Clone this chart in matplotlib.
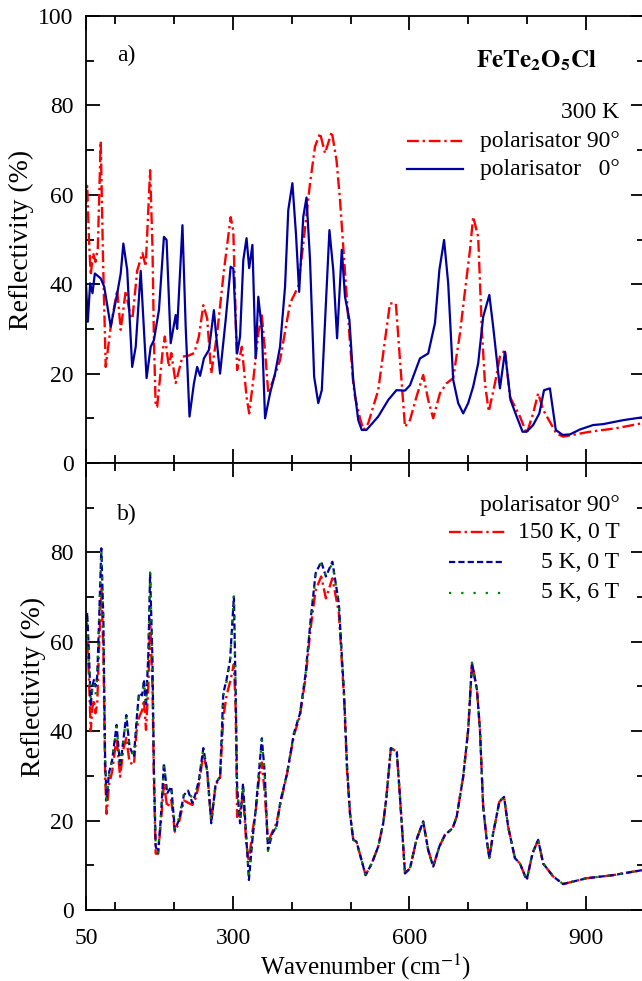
import matplotlib
matplotlib.use("Agg")
import matplotlib.pyplot as plt
from matplotlib.ticker import FixedLocator, NullFormatter

plt.rcParams['font.family'] = ['Liberation Serif', 'DejaVu Serif']
plt.rcParams['mathtext.fontset'] = 'stix'

# ---- panel a) 300 K, polarisator 90 deg (red dash-dot) ----
w_a90 = [50, 52, 55, 58, 62, 66, 70, 75, 79, 83.5, 92, 103, 109, 117.5, 126, 129,
         137, 146, 151.5, 159, 163, 165.5, 168.5, 171, 180, 184, 191, 195, 202.5,
         214, 224, 234, 242, 249.5, 256, 263, 273, 284.5, 296, 300.5, 307, 315,
         323, 327.5, 334.5, 343, 349, 354.5, 360, 368.5, 380, 397, 411, 419.5,
         431, 439.5, 448, 456.5, 468, 476, 482, 487.5, 493, 499, 504.5, 507.5,
         516, 522, 530, 547, 558.5, 567, 577, 584, 592.5, 601, 612, 623.5, 632,
         640.5, 652, 663, 674.5, 686, 697.5, 703, 708.5, 717, 723, 728.5, 735,
         745.5, 754, 762.5, 771, 788, 799.5, 810.5, 819, 827.5, 850, 861.5, 907,
         952.5, 1000]
r_a90 = [58, 62, 50, 42, 47, 45, 48, 72, 45, 21.5, 30.5, 38.7, 29.8, 38.5, 32.4, 32.4,
         43, 47, 44, 65.5, 48.4, 27.5, 12.6, 12.6, 24.6, 28.3, 21.5, 24.6, 17.9,
         23.8, 24, 24.6, 28.3, 35.3, 32.4, 20, 29, 43, 55, 52, 20.8, 26,
         14.8, 11.1, 18.6, 29, 33, 25, 15.6, 18.6, 23, 35.7, 39.5, 49,
         62.6, 70.8, 73.8, 69.3, 74.1, 67.8, 58.8, 48.4, 38, 26.8, 17.8, 14.8,
         10, 7.4, 8.9, 16.3, 27.5, 35.7, 35.7, 23, 8.1, 9.6, 14.8, 19.7, 14.1,
         10, 15.6, 17.8, 19, 29, 41.7, 47.6, 55.1, 50.6, 30.5, 17.8, 11.5,
         17.8, 23.8, 25.3, 14.8, 10.4, 6.6, 11.1, 15.6, 11.9, 6.6, 5.9, 7,
         7.8, 9]

# ---- panel a) 300 K, polarisator 0 deg (blue solid) ----
w_a0 = [50, 53, 57, 61, 65, 75, 81, 92, 103, 109, 113.5, 120, 128.5, 134.5, 143,
        153, 160, 165.5, 174, 182.5, 187, 194, 202.5, 205, 214, 219.5, 226,
        233.5, 239, 244, 250.5, 259, 267.5, 271, 278, 287.5, 296, 300.5, 307,
        312, 317.5, 323, 327.5, 333, 338.5, 343, 349, 354.5, 363, 371.5, 380,
        388.5, 394, 401, 407, 412.5, 419.5, 425, 431, 438, 445, 451, 458, 464,
        470.5, 477, 485, 490.5, 498, 504.5, 513, 519, 527, 547, 564, 578,
        592.5, 601, 618, 632, 643.5, 651, 659, 666, 674.5, 683, 691.5, 700,
        708.5, 717, 725.5, 736, 742.5, 754, 762.5, 772, 782.5, 792.5, 799.5,
        810.5, 821, 829, 839, 849, 860.5, 873, 890, 912.5, 929.5, 964, 1000]
r_a0 = [40, 31.6, 40.2, 38, 42.4, 41.3, 39.4, 30.5, 37.9, 42.4, 49.1, 43.2, 21.5, 26, 43,
        19, 26, 27.5, 34.2, 50.6, 49.9, 26.8, 33.1, 30, 53.2, 30.5, 10.4,
        17.8, 21.5, 19.5, 23.4, 25.3, 34.2, 29, 20, 32, 43.9, 43.5, 24.5,
        28.3, 45.4, 50.3, 43.6, 48.8, 23.4, 37.2, 30, 10, 15.6, 20, 26,
        39.4, 56.6, 62.6, 51.4, 38.3, 55.1, 59.4, 45.4, 19.3, 13.4, 16.3, 35.7, 52.1,
        43.2, 27.9, 47.7, 37.2, 32, 18.6, 9.6, 7.4, 7.4, 10.4, 14.1, 16.3,
        16.2, 17.4, 23.4, 24.5, 31.3, 43.2, 49.9, 40.2, 18.6, 13.4, 11.1, 13.4,
        17.1, 22.3, 32.7, 37.6, 30.5, 16.7, 24.9, 14.1, 10.4, 7, 7,
        8.5, 11.1, 16.3, 16.7, 7.4, 6.3, 6.4, 7.5, 8.5, 8.7, 9.6, 10.3]

# ---- panel b) polarisator 90 deg at low temperature / field ----
w_b = [50, 52, 55, 58, 60.5, 63.5, 66, 69, 72, 76, 79.5, 82.5, 85, 89, 94.5, 102,
       108, 113.5, 118.5, 124, 131.5, 136, 140, 145.5, 148.5, 152, 156, 159, 163,
       165.5, 168.5, 172.5, 177, 182.5, 188, 195, 201, 208, 216.5, 223.5, 231,
       236.5, 242, 249.5, 256, 263, 270.5, 278, 283.5, 289, 295, 301.5, 304.5,
       307, 312, 317, 322.5, 327, 333, 338.5, 344, 349, 354, 359.5, 367, 374,
       381, 392, 403.5, 414, 423.5, 432, 440.5, 450, 458, 469, 480, 489, 494,
       499, 504.5, 510, 525.5, 536, 547, 555.5, 561, 568.5, 578.5, 584, 592.5,
       601, 612, 623.5, 632, 640.5, 651, 660.5, 673.5, 680.5, 691.5, 700, 706.5,
       715, 720, 725.5, 731.5, 736, 742.5, 753, 761, 768, 779.5, 788, 799.5,
       809.5, 819, 827.5, 844.5, 861.5, 901.5, 947, 1000]
r_150K_0T = [55, 60, 52, 40, 45, 47, 44, 46, 58, 72, 58, 30, 21.5, 28, 31, 38.5,
             29.8, 36, 38.5, 33, 32.5, 40, 43, 44.7, 47, 40.3, 50, 65, 50,
             28, 12.6, 12.6, 19, 28.3, 23, 24.6, 17.5, 19.5, 24.5, 24, 23.5,
             25, 28, 35, 31, 20, 28, 29.5, 43, 48, 51, 55, 45,
             20.8, 22, 26, 15, 10.8, 17.5, 22, 29, 33, 26, 15.2, 17.5, 19.5,
             24, 30.5, 39, 43.5, 52, 63, 71.5, 74.6, 69.7, 74.2, 66.5, 47, 31,
             21.6, 15.7, 15.3, 7.8, 10.4, 14.2, 19.4, 25.3, 36.2, 35.4, 25.3, 8.2,
             9.3, 15.7, 19.8, 13.4, 9.7, 14.2, 16.8, 18.3, 20.9, 29.8, 40.3, 55.3,
             49.2, 40.3, 23.1, 15.7, 11.6, 17.2, 24.2, 25.3, 18.6, 11.6, 10.4, 6.7,
             12.7, 15.7, 10.4, 7.5, 5.8, 7.1, 7.8, 9]
r_5K_0T = [63, 66.5, 57.4, 45.5, 50, 51.5, 50, 52.2, 64.1, 80.9, 64.9, 33.6, 24.6, 30.6, 33.6, 41.4,
           32, 38, 43.6, 36.5, 34.3, 42.5, 48.5, 48, 51.5, 45.5, 57.4, 75.3, 55.9,
           31.3, 14.2, 12.7, 20.1, 32.8, 26.1, 27.6, 17.9, 20.1, 25.7, 26.7, 23.9,
           26.1, 29.1, 36.2, 31.3, 19.4, 28.3, 29.8, 48.5, 51.5, 55.9, 70.1, 49,
           27.6, 19.4, 28.3, 16.4, 6.7, 15.7, 22.4, 30.6, 38.4, 30.6, 13.4, 17.2, 18.6,
           24.6, 30.6, 39.5, 44, 52.9, 64.9, 75.3, 77.9, 74.6, 77.9, 68.6, 48, 32,
           21.6, 15.7, 15.3, 7.8, 10.4, 14.2, 19.4, 25.3, 36.2, 35.4, 25.3, 8.2,
           9.3, 15.7, 19.8, 13.4, 9.7, 14.2, 16.8, 18.3, 20.9, 29.8, 40.3, 55.3,
           49.2, 40.3, 23.1, 15.7, 11.6, 17.2, 24.2, 25.3, 18.6, 11.6, 10.4, 6.7,
           12.7, 15.7, 10.4, 7.5, 5.8, 7.1, 7.8, 9]
r_5K_6T = [61, 64, 55, 47, 49, 51, 48, 52, 63.5, 80.5, 64, 33, 23.5, 30, 33.6, 41,
           32.5, 38, 43, 36.5, 34.5, 41, 48, 48.5, 51, 46, 57, 75.5, 55.5,
           31, 14, 12.9, 20, 32.5, 26.5, 27, 18, 20.5, 26, 26.5, 25,
           26, 29, 36, 31, 19.6, 28, 30, 48, 51, 55.5, 70.5, 49,
           27, 20, 28, 16.5, 8, 15.5, 22, 30.5, 38, 30.5, 13.2, 17, 18.6,
           24.5, 30.5, 39.5, 44, 53, 65, 75, 77.5, 74.8, 77.5, 68.5, 48, 32,
           21.6, 15.7, 15.3, 7.8, 10.4, 14.2, 19.4, 25.3, 36.2, 35.4, 25.3, 8.2,
           9.3, 15.7, 19.8, 13.4, 9.7, 14.2, 16.8, 18.3, 20.9, 29.8, 40.3, 55.3,
           49.2, 40.3, 23.1, 15.7, 11.6, 17.2, 24.2, 25.3, 18.6, 11.6, 10.4, 6.7,
           12.7, 15.7, 10.4, 7.5, 5.8, 7.1, 7.8, 9]

x_major = [50, 300, 600, 900]
x_minor = [100, 200, 400, 500, 700, 800, 1000]

RED = '#ff0000'
BLUE = '#0000a0'
GREEN = '#008000'
ls_dashdot = (0, (5, 1.6, 1, 1.6))
ls_dash = (0, (2.8, 1.4))
ls_dot = (0, (1, 4.5))
FS = 17

fig = plt.figure(figsize=(6.42, 9.81), dpi=100)
ax_a = fig.add_axes([0.134, 0.528, 0.870, 0.4557])
ax_b = fig.add_axes([0.134, 0.0724, 0.870, 0.4557])

ax_a.plot(w_a90, r_a90, color=RED, lw=1.7, ls=ls_dashdot)
ax_a.plot(w_a0, r_a0, color=BLUE, lw=1.6, ls='-')

ax_b.plot(w_b, r_150K_0T, color=RED, lw=1.7, ls=ls_dashdot)
ax_b.plot(w_b, r_5K_0T, color=BLUE, lw=1.6, ls=ls_dash)
ax_b.plot(w_b, r_5K_6T, color=GREEN, lw=1.6, ls=ls_dot)

for ax in (ax_a, ax_b):
    ax.set_xlim(50, 1000)
    ax.set_ylim(0, 100)
    ax.xaxis.set_major_locator(FixedLocator(x_major))
    ax.xaxis.set_minor_locator(FixedLocator(x_minor))
    ax.yaxis.set_minor_locator(FixedLocator(list(range(10, 100, 20))))
    ax.tick_params(which='both', direction='in', top=True, right=True, width=1.3,
                   labelsize=FS, pad=9)
    ax.tick_params(which='major', length=10)
    ax.tick_params(which='minor', length=6)
    for s in ax.spines.values():
        s.set_linewidth(1.3)
    ax.set_ylabel('Reflectivity (%)', fontsize=20, labelpad=3)

ax_a.yaxis.set_major_locator(FixedLocator([0, 20, 40, 60, 80, 100]))
ax_a.xaxis.set_major_formatter(NullFormatter())
ax_b.yaxis.set_major_locator(FixedLocator([0, 20, 40, 60, 80, 100]))
ax_b.set_yticklabels(['0', '20', '40', '60', '80', ''])
ax_b.set_xlabel('Wavenumber (cm$^{-1}$)', fontsize=18, labelpad=2)
ax_b.tick_params(axis='x', pad=13)

# panel a annotations
ax_a.text(0.055, 0.912, 'a)', transform=ax_a.transAxes, fontsize=FS, ha='left', va='center')
ax_a.text(0.915, 0.9, r'$\mathbf{FeTe_2O_5Cl}$', transform=ax_a.transAxes,
          fontsize=18, ha='right', va='center')
ax_a.text(0.955, 0.785, '300 K', transform=ax_a.transAxes, fontsize=FS, ha='right', va='center')
ax_a.text(0.955, 0.72, 'polarisator 90°', transform=ax_a.transAxes, fontsize=FS, ha='right', va='center')
ax_a.text(0.955, 0.657, 'polarisator   0°', transform=ax_a.transAxes, fontsize=FS, ha='right', va='center')
ax_a.plot([0.575, 0.675], [0.72, 0.72], transform=ax_a.transAxes, color=RED, lw=1.7, ls=ls_dashdot)
ax_a.plot([0.575, 0.675], [0.657, 0.657], transform=ax_a.transAxes, color=BLUE, lw=1.6, ls='-')

# panel b annotations
ax_b.text(0.055, 0.885, 'b)', transform=ax_b.transAxes, fontsize=FS, ha='left', va='center')
ax_b.text(0.955, 0.905, 'polarisator 90°', transform=ax_b.transAxes, fontsize=FS, ha='right', va='center')
ax_b.text(0.955, 0.845, '150 K, 0 T', transform=ax_b.transAxes, fontsize=FS, ha='right', va='center')
ax_b.text(0.955, 0.778, '5 K, 0 T', transform=ax_b.transAxes, fontsize=FS, ha='right', va='center')
ax_b.text(0.955, 0.71, '5 K, 6 T', transform=ax_b.transAxes, fontsize=FS, ha='right', va='center')
ax_b.plot([0.65, 0.75], [0.845, 0.845], transform=ax_b.transAxes, color=RED, lw=1.7, ls=ls_dashdot)
ax_b.plot([0.65, 0.75], [0.778, 0.778], transform=ax_b.transAxes, color=BLUE, lw=1.6, ls=ls_dash)
ax_b.plot([0.65, 0.75], [0.71, 0.71], transform=ax_b.transAxes, color=GREEN, lw=1.6, ls=ls_dot)

fig.savefig('out.png', dpi=100)
